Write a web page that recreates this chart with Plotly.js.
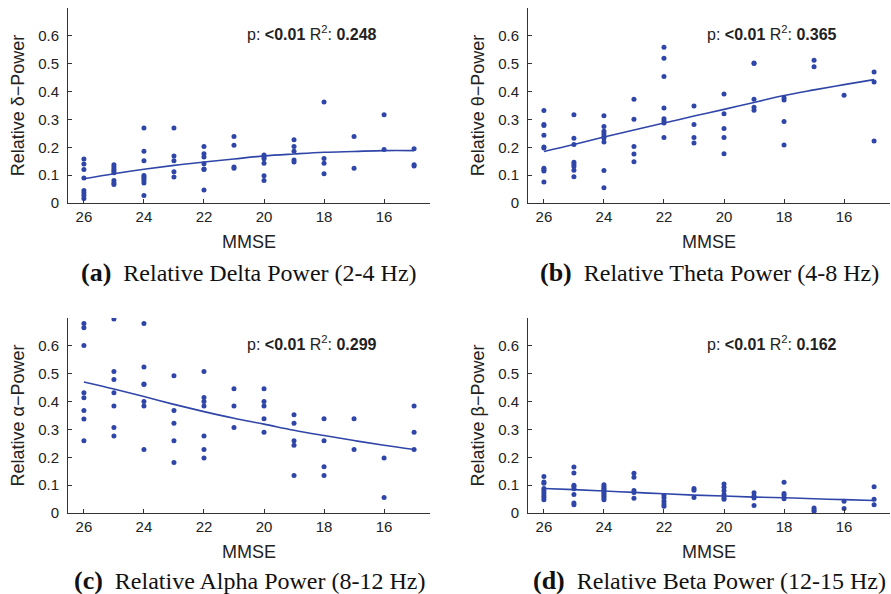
<!DOCTYPE html>
<html>
<head>
<meta charset="utf-8">
<script src="https://cdn.plot.ly/plotly-3.0.1.min.js"></script>
<style>html,body{margin:0;padding:0;background:#fff;}#chart{width:891px;height:594px;}</style>
</head>
<body>
<div id="chart"></div>
<script>
// ---- Data ----
const deltaMMSE  = [26,26,26,26,26,26,26,26, 25,25,25,25,25,25,25,25, 24,24,24,24,24,24,24,24,24, 23,23,23,23,23, 22,22,22,22,22,22,22, 21,21,21,21, 20,20,20,20,20,20, 19,19,19,19,19, 18,18,18,18, 17,17, 16,16, 15,15,15];
const deltaPower = [0.158,0.140,0.120,0.090,0.045,0.036,0.027,0.016, 0.137,0.129,0.121,0.115,0.109,0.081,0.072,0.066, 0.269,0.186,0.152,0.099,0.093,0.087,0.080,0.072,0.027, 0.269,0.169,0.152,0.112,0.093, 0.203,0.177,0.165,0.141,0.122,0.120,0.047, 0.239,0.207,0.129,0.125, 0.172,0.165,0.159,0.143,0.098,0.081, 0.227,0.203,0.186,0.154,0.147, 0.363,0.160,0.143,0.105, 0.239,0.125, 0.317,0.192, 0.195,0.137,0.133];

const thetaMMSE  = [26,26,26,26,26,26,26,26,26,26, 25,25,25,25,25,25,25,25, 24,24,24,24,24,24,24,24,24, 23,23,23,23,23, 22,22,22,22,22,22,22,22, 21,21,21,21, 20,20,20,20,20, 19,19,19,19,19, 18,18,18,18, 17,17, 16, 15,15,15];
const thetaPower = [0.332,0.282,0.278,0.243,0.201,0.197,0.125,0.119,0.115,0.075, 0.317,0.232,0.210,0.146,0.139,0.131,0.118,0.094, 0.313,0.275,0.258,0.249,0.239,0.233,0.219,0.117,0.055, 0.372,0.301,0.203,0.176,0.148, 0.559,0.520,0.454,0.341,0.302,0.294,0.287,0.235, 0.348,0.282,0.235,0.215, 0.391,0.320,0.267,0.235,0.177, 0.503,0.501,0.372,0.344,0.333, 0.378,0.370,0.293,0.208, 0.512,0.489, 0.387, 0.470,0.434,0.223];

const alphaMMSE  = [26,26,26,26,26,26,26,26, 25,25,25,25,25,25,25, 24,24,24,24,24,24,24, 23,23,23,23,23, 22,22,22,22,22,22,22, 21,21,21, 20,20,20,20,20, 19,19,19,19,19, 18,18,18,18, 17,17, 16,16, 15,15,15];
const alphaPower = [0.680,0.665,0.601,0.432,0.414,0.368,0.337,0.259, 0.696,0.508,0.479,0.432,0.384,0.307,0.276, 0.680,0.524,0.463,0.461,0.400,0.384,0.228, 0.493,0.368,0.322,0.259,0.181, 0.508,0.415,0.400,0.384,0.276,0.228,0.197, 0.446,0.384,0.307, 0.446,0.400,0.384,0.338,0.290, 0.353,0.322,0.259,0.243,0.135, 0.338,0.259,0.166,0.135, 0.338,0.228, 0.197,0.056, 0.384,0.290,0.228];

const betaMMSE  = [26,26,26,26,26,26,26,26,26, 25,25,25,25,25,25,25,25, 24,24,24,24,24,24,24,24,24,24, 23,23,23,23,23, 22,22,22,22,22, 21,21,21, 20,20,20,20,20,20, 19,19,19,19, 18,18,18,18, 17,17,17, 16,16, 15,15,15];
const betaPower = [0.131,0.111,0.107,0.088,0.080,0.072,0.063,0.056,0.048, 0.165,0.144,0.100,0.095,0.087,0.066,0.036,0.030, 0.101,0.095,0.089,0.084,0.078,0.072,0.066,0.060,0.054,0.048, 0.143,0.128,0.081,0.074,0.053, 0.063,0.054,0.042,0.032,0.024, 0.088,0.082,0.056, 0.104,0.092,0.080,0.066,0.056,0.049, 0.073,0.061,0.054,0.027, 0.110,0.070,0.063,0.051, 0.018,0.012,0.006, 0.042,0.016, 0.094,0.049,0.030];

// fitted curves at each MMSE score
const fitMMSE  = [26,25,24,23,22,21,20,19,18,17,16,15];
const deltaFit = [0.087,0.105,0.121,0.135,0.147,0.158,0.169,0.176,0.182,0.185,0.188,0.188];
const thetaFit = [0.185,0.210,0.237,0.262,0.287,0.312,0.336,0.361,0.386,0.406,0.425,0.443];
const alphaFit = [0.470,0.445,0.418,0.390,0.364,0.340,0.319,0.297,0.278,0.260,0.243,0.228];
const betaFit  = [0.088,0.084,0.079,0.074,0.069,0.064,0.061,0.057,0.055,0.051,0.048,0.045];

const yLabels  = ['Relative δ−Power','Relative θ−Power','Relative α−Power','Relative β−Power'];
const statsR2  = ['0.248','0.365','0.299','0.162'];
const pValue   = '&lt;0.01';
const captionTags  = ['(a)','(b)','(c)','(d)'];
const captionTexts = ['Relative Delta Power (2-4 Hz)','Relative Theta Power (4-8 Hz)','Relative Alpha Power (8-12 Hz)','Relative Beta Power (12-15 Hz)'];
const xTicks = [26,24,22,20,18,16];
const yTicks = [0,0.1,0.2,0.3,0.4,0.5,0.6];

// ---- Plot ----
const W = 891, H = 594;
const blue = '#2f46a8';
const panels = [
  {x: deltaMMSE, y: deltaPower, fit: deltaFit, px: [68,430], py: [8,203], cap: 272},
  {x: thetaMMSE, y: thetaPower, fit: thetaFit, px: [528,890], py: [8,203], cap: 272},
  {x: alphaMMSE, y: alphaPower, fit: alphaFit, px: [68,430], py: [318,513], cap: 580},
  {x: betaMMSE,  y: betaPower,  fit: betaFit,  px: [528,890], py: [318,513], cap: 580}
];
const data = [];
const layout = {
  width: W, height: H,
  margin: {l:0, r:0, t:0, b:0},
  paper_bgcolor: '#fff', plot_bgcolor: '#fff',
  showlegend: false,
  font: {family: 'Liberation Sans, Arial, sans-serif', color: '#222', size: 15},
  annotations: []
};
panels.forEach((p, i) => {
  const n = i === 0 ? '' : String(i + 1);
  data.push({type: 'scatter', mode: 'markers', x: p.x, y: p.y, xaxis: 'x' + n, yaxis: 'y' + n,
    marker: {color: blue, size: 5}, hoverinfo: 'x+y'});
  data.push({type: 'scatter', mode: 'lines', x: fitMMSE, y: p.fit, xaxis: 'x' + n, yaxis: 'y' + n,
    line: {color: blue, width: 1.6, shape: 'spline'}, hoverinfo: 'skip'});
  const xd = [p.px[0] / W, p.px[1] / W];
  const yd = [1 - p.py[1] / H, 1 - p.py[0] / H];
  layout['xaxis' + n] = {
    domain: xd, anchor: 'y' + n, range: [26.53, 14.47], autorange: false,
    tickmode: 'array', tickvals: xTicks, ticks: 'inside', ticklen: 4, tickcolor: '#333',
    showline: true, linecolor: '#333', linewidth: 1, showgrid: false, zeroline: false,
    tickfont: {size: 15, color: '#222'}, automargin: false,
    title: {text: 'MMSE', font: {size: 18, color: '#222'}, standoff: 11}
  };
  layout['yaxis' + n] = {
    domain: yd, anchor: 'x' + n, range: [0, 0.7], autorange: false,
    tickmode: 'array', tickvals: yTicks, ticks: 'inside', ticklen: 4, tickcolor: '#333',
    showline: true, linecolor: '#333', linewidth: 1, showgrid: false, zeroline: false,
    tickfont: {size: 15, color: '#222'}, automargin: false, ticklabelstandoff: 5,
    title: {text: yLabels[i], font: {size: 18, color: '#222'}, standoff: 8}
  };
  layout.annotations.push({
    xref: 'paper', yref: 'paper', x: (p.px[0] + 177) / W, y: 1 - (p.py[0] + 25) / H,
    xanchor: 'left', yanchor: 'middle', showarrow: false,
    text: 'p: <b>' + pValue + '</b> R<sup>2</sup>: <b>' + statsR2[i] + '</b>',
    font: {size: 16, color: '#222'}
  });
  layout.annotations.push({
    xref: 'paper', yref: 'paper', x: (p.px[0] + p.px[1]) / 2 / W, y: 1 - p.cap / H,
    xanchor: 'center', yanchor: 'middle', showarrow: false,
    text: '<b><span style="font-size:26px">' + captionTags[i] + '</span></b>  ' + captionTexts[i],
    font: {size: 24, color: '#111', family: 'Liberation Serif, Times New Roman, serif'}
  });
});
Plotly.newPlot('chart', data, layout, {displayModeBar: false, staticPlot: true});
</script>
</body>
</html>
